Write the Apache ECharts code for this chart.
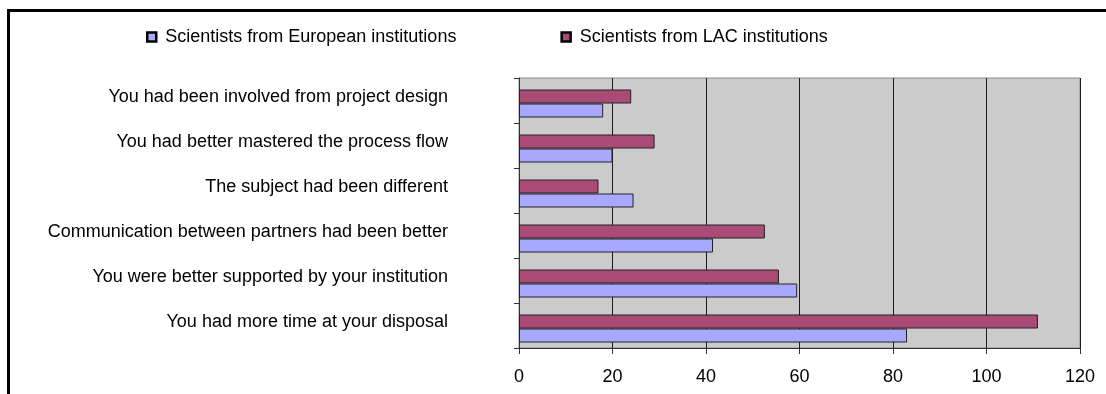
<!DOCTYPE html>
<html>
<head>
<meta charset="utf-8">
<script src="https://cdn.jsdelivr.net/npm/echarts@6/dist/echarts.min.js"></script>
<style>
html,body{margin:0;padding:0;background:#fff;}
#chart{width:1106px;height:394px;}
</style>
</head>
<body>
<div id="chart"></div>
<script>
// Categories listed bottom to top (ECharts category y axis starts at the bottom)
const categories = [
  'You had more time at your disposal',
  'You were better supported by your institution',
  'Communication between partners had been better',
  'The subject had been different',
  'You had better mastered the process flow',
  'You had been involved from project design'
];
const seriesNames = ['Scientists from European institutions', 'Scientists from LAC institutions'];
const european = [83, 59.5, 41.5, 24.5, 20, 18];
const lac = [111, 55.6, 52.6, 17, 29, 24];
const xTicks = [0, 20, 40, 60, 80, 100, 120];

const FONT = "'Liberation Sans', Arial, sans-serif";
const chart = echarts.init(document.getElementById('chart'));
chart.setOption({
  animation: false,
  backgroundColor: '#ffffff',
  textStyle: { fontFamily: FONT, color: '#000' },
  graphic: [{
    type: 'rect',
    shape: { x: 8.5, y: 10.5, width: 1300, height: 600 },
    style: { fill: 'none', stroke: '#000', lineWidth: 3 },
    z: 100
  }],
  legend: {
    left: 141,
    top: 23,
    itemGap: 104,
    itemWidth: 9,
    itemHeight: 9,
    icon: 'rect',
    textStyle: { fontFamily: FONT, fontSize: 18, color: '#000', padding: [0, 0, 0, 4] },
    data: seriesNames.map(n => ({ name: n, itemStyle: { borderColor: '#000', borderWidth: 2.5 } }))
  },
  grid: {
    left: 519,
    right: 26,
    top: 78,
    bottom: 46,
    show: true,
    backgroundColor: '#cbcbcb',
    borderColor: '#8a8a8a',
    borderWidth: 1
  },
  xAxis: {
    type: 'value',
    min: xTicks[0],
    max: xTicks[xTicks.length - 1],
    interval: 20,
    axisLine: { show: true, lineStyle: { color: '#333', width: 1 } },
    axisTick: { show: true, length: 6, lineStyle: { color: '#333' } },
    axisLabel: { fontFamily: FONT, fontSize: 18, color: '#000', margin: 20 },
    splitLine: { show: true, lineStyle: { color: '#1a1a1a', width: 1 } }
  },
  yAxis: {
    type: 'category',
    data: categories,
    axisLine: { show: true, lineStyle: { color: '#333', width: 1 } },
    axisTick: { show: true, length: 5, lineStyle: { color: '#333' } },
    axisLabel: { fontFamily: FONT, fontSize: 18, color: '#000', margin: 71, verticalAlign: 'bottom', lineHeight: 6 },
    splitLine: { show: false }
  },
  series: [
    {
      name: 'spacer',
      type: 'bar',
      data: [],
      barWidth: 6,
      barGap: '0%',
      silent: true
    },
    {
      name: seriesNames[1],
      type: 'bar',
      data: lac,
      barWidth: 14,
      barGap: '0%',
      itemStyle: { color: '#aa4a77', borderColor: '#222', borderWidth: 1 }
    },
    {
      name: seriesNames[0],
      type: 'bar',
      data: european,
      barWidth: 14,
      barGap: '0%',
      itemStyle: { color: '#a8a8ff', borderColor: '#222', borderWidth: 1 }
    }
  ]
});
</script>
</body>
</html>
